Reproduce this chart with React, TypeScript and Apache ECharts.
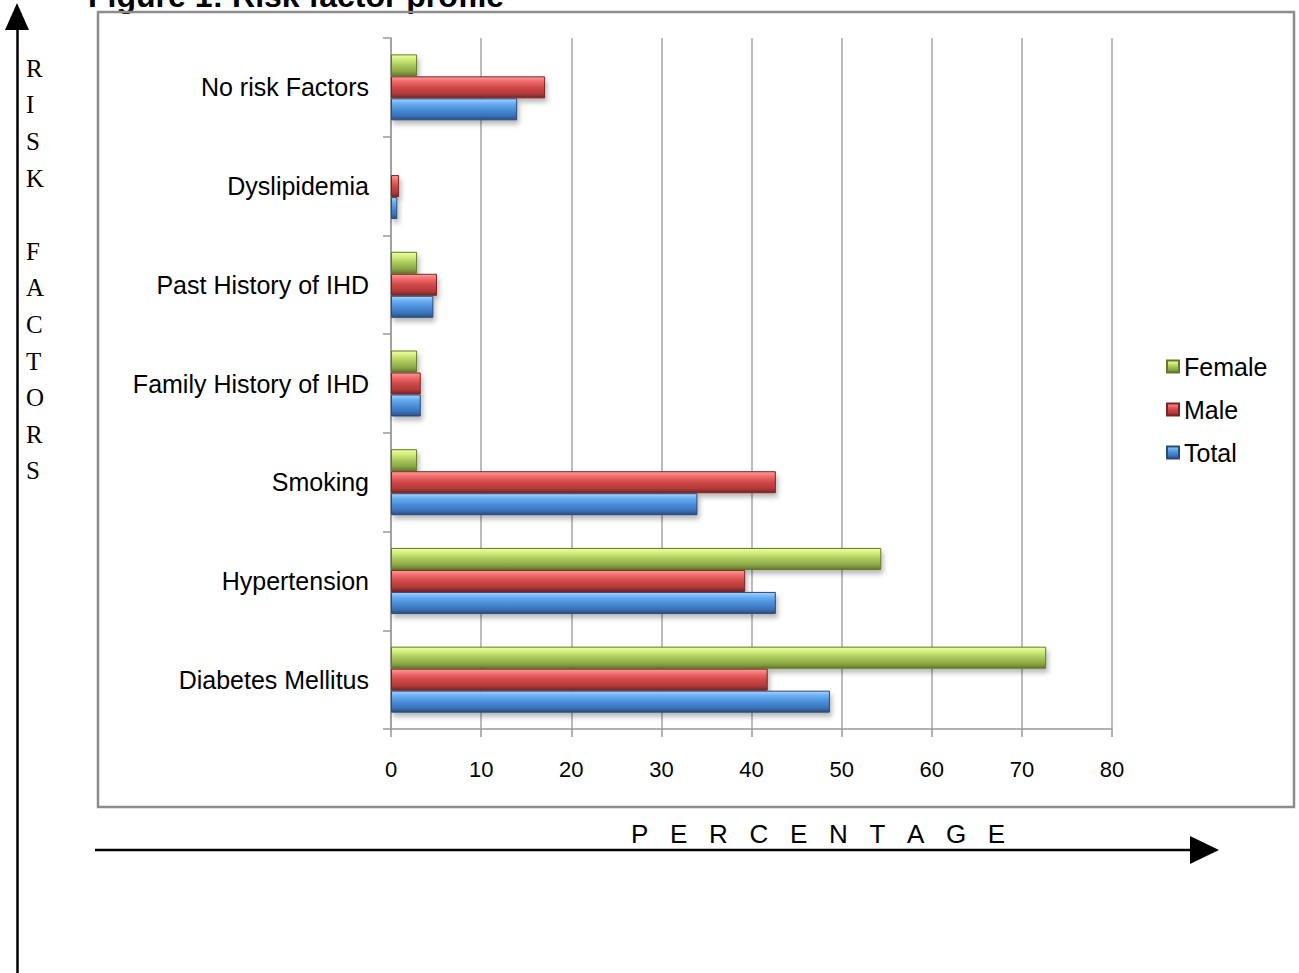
import React, { useEffect, useRef } from "react";
import * as echarts from "echarts";

// Risk factor categories, bottom to top on the category axis
const categories = [
  "Diabetes Mellitus",
  "Hypertension",
  "Smoking",
  "Family History of IHD",
  "Past History of IHD",
  "Dyslipidemia",
  "No risk Factors",
];

// Percentages per group
const totalValues = [48.7, 42.7, 34.0, 3.3, 4.7, 0.7, 14.0];
const maleValues = [41.8, 39.3, 42.7, 3.3, 5.1, 0.9, 17.1];
const femaleValues = [72.7, 54.4, 2.9, 2.9, 2.9, 0, 2.9];

const xTicks = { min: 0, max: 80, interval: 10 };
const legendOrder = ["Female", "Male", "Total"];

const SANS = "'Liberation Sans', Arial, Helvetica, sans-serif";
const SERIF = "'Liberation Serif', 'Times New Roman', serif";

function bevel(stops: string[]) {
  return new echarts.graphic.LinearGradient(0, 0, 0, 1, [
    { offset: 0, color: stops[0] },
    { offset: 0.22, color: stops[1] },
    { offset: 0.5, color: stops[2] },
    { offset: 0.8, color: stops[3] },
    { offset: 1, color: stops[4] },
  ]);
}

const palette = {
  Total: {
    fill: ["#a9d4ff", "#6aaef0", "#4a8fdc", "#3b72b8", "#2a4f80"],
    edge: "#2a4a78",
  },
  Male: {
    fill: ["#ff9c9c", "#f06c6c", "#d24848", "#b03a3a", "#7a2424"],
    edge: "#7a2424",
  },
  Female: {
    fill: ["#f0ffa0", "#d2ec7a", "#aac85c", "#8aa545", "#5f7a2a"],
    edge: "#5f7a2a",
  },
};

function barSeries(name: "Total" | "Male" | "Female", data: number[]) {
  return {
    name,
    type: "bar",
    data,
    barWidth: 22,
    barGap: "0%",
    itemStyle: {
      color: bevel(palette[name].fill),
      borderColor: palette[name].edge,
      borderWidth: 1,
      shadowColor: "rgba(0,0,0,0.28)",
      shadowBlur: 5,
      shadowOffsetX: 2,
      shadowOffsetY: 4,
    },
  };
}

export default function App() {
  const ref = useRef<HTMLDivElement>(null);

  useEffect(() => {
    if (!ref.current) return;
    const chart = echarts.init(ref.current, undefined, { renderer: "svg" });

    const option = {
      animation: false,
      backgroundColor: "#ffffff",
      grid: { left: 391, right: 187, top: 38, bottom: 244, containLabel: false },
      legend: {
        data: legendOrder,
        orient: "vertical",
        left: 1161,
        top: 349,
        itemWidth: 12,
        itemHeight: 12,
        itemGap: 18,
        icon: "rect",
        textStyle: { fontFamily: SANS, fontSize: 25, color: "#000" },
      },
      xAxis: {
        type: "value",
        min: xTicks.min,
        max: xTicks.max,
        interval: xTicks.interval,
        axisLine: { show: true, lineStyle: { color: "#9a9a9a", width: 1.5 } },
        axisTick: { show: true, length: 8, lineStyle: { color: "#9a9a9a", width: 1.5 } },
        axisLabel: { fontFamily: SANS, fontSize: 22, color: "#000", margin: 29 },
        splitLine: { show: true, lineStyle: { color: "#a6a6a6", width: 1.5 } },
      },
      yAxis: {
        type: "category",
        data: categories,
        axisLine: { show: true, lineStyle: { color: "#9a9a9a", width: 1.5 } },
        axisTick: { show: true, length: 8, inside: false, lineStyle: { color: "#9a9a9a", width: 1.5 } },
        axisLabel: { fontFamily: SANS, fontSize: 25, color: "#000", margin: 22 },
        splitLine: { show: false },
      },
      // first series is drawn topmost inside each category band
      series: [
        barSeries("Female", femaleValues),
        barSeries("Male", maleValues),
        barSeries("Total", totalValues),
      ],
      graphic: [
        // chart frame
        {
          type: "rect",
          shape: { x: 98, y: 12, width: 1196, height: 795 },
          style: { fill: "none", stroke: "#8c8c8c", lineWidth: 2.5 },
          z: 1,
        },
        // figure caption, running off the top edge
        {
          type: "text",
          x: 88,
          y: 12,
          style: {
            text: "Figure 1: Risk factor profile",
            font: `bold 32px ${SANS}`,
            fill: "#000",
            textVerticalAlign: "bottom",
          },
        },
        // vertical arrow
        {
          type: "line",
          shape: { x1: 17.5, y1: 26, x2: 17.5, y2: 973 },
          style: { stroke: "#000", lineWidth: 2.5 },
        },
        {
          type: "polygon",
          shape: { points: [[5, 30], [29, 30], [17, 3]] },
          style: { fill: "#000" },
        },
        {
          type: "text",
          x: 26,
          y: 50,
          style: {
            text: "R\nI\nS\nK\n\nF\nA\nC\nT\nO\nR\nS",
            font: `25px ${SERIF}`,
            lineHeight: 36.6,
            fill: "#000",
            textAlign: "left",
            textVerticalAlign: "top",
          },
        },
        // horizontal arrow
        {
          type: "line",
          shape: { x1: 95, y1: 850, x2: 1192, y2: 850 },
          style: { stroke: "#000", lineWidth: 2.5 },
        },
        {
          type: "polygon",
          shape: { points: [[1190, 836], [1190, 864], [1219, 850]] },
          style: { fill: "#000" },
        },
        {
          type: "text",
          x: 631,
          y: 834,
          style: {
            text: "P\u00a0\u00a0\u00a0E\u00a0\u00a0\u00a0R\u00a0\u00a0\u00a0C\u00a0\u00a0\u00a0E\u00a0\u00a0\u00a0N\u00a0\u00a0\u00a0T\u00a0\u00a0\u00a0A\u00a0\u00a0\u00a0G\u00a0\u00a0\u00a0E",
            font: `26px ${SANS}`,
            fill: "#000",
            textAlign: "left",
            textVerticalAlign: "middle",
          },
        },
      ],
    };

    chart.setOption(option as any);
    return () => chart.dispose();
  }, []);

  return (
    <div
      ref={ref}
      style={{ position: "absolute", left: 0, top: 0, width: 1299, height: 973, background: "#fff" }}
    />
  );
}
